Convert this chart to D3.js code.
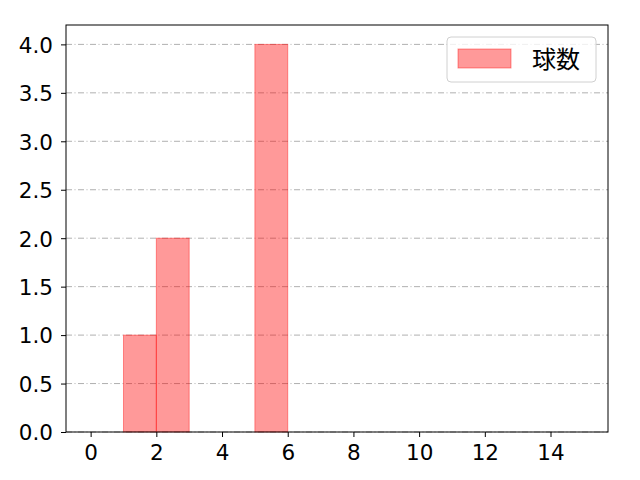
<!DOCTYPE html>
<html>
<head>
<meta charset="utf-8">
<script src="https://cdn.jsdelivr.net/npm/d3@7"></script>
<style>
  body { margin: 0; background: #fff; }
</style>
</head>
<body>
<svg id="chart" width="640" height="480"></svg>
<script>
// histogram bins (start, end) and counts
const binStarts = [1, 2, 5];
const binEnds = [2, 3, 6];
const counts = [1, 2, 4];
const xTicks = [0, 2, 4, 6, 8, 10, 12, 14];
const yTicks = [0, 0.5, 1.0, 1.5, 2.0, 2.5, 3.0, 3.5, 4.0];
const seriesName = "球数";

const TICK_FONT = "'DejaVu Sans', sans-serif";
const CJK_FONT = "'Noto Sans CJK JP', sans-serif";

const svg = d3.select("#chart");
const margin = { top: 25, right: 32, bottom: 48, left: 66 };
const width = +svg.attr("width") - margin.left - margin.right;
const height = +svg.attr("height") - margin.top - margin.bottom;

const chart = svg.append("g")
    .attr("transform", `translate(${margin.left},${margin.top})`);

const x = d3.scaleLinear().domain([-0.75, 15.75]).range([0, width]);
const y = d3.scaleLinear().domain([0, 4.2]).range([height, 0]);

// grid
chart.selectAll(".grid")
    .data(yTicks)
    .enter()
    .append("line")
    .attr("x1", 0)
    .attr("x2", width)
    .attr("y1", d => y(d))
    .attr("y2", d => y(d))
    .attr("stroke", "#b0b0b0")
    .attr("stroke-width", 1)
    .attr("stroke-dasharray", "6,2.5,1,2.5");

// bars
const bars = binStarts.map((s, i) => ({ s, e: binEnds[i], v: counts[i] }));
chart.selectAll(".bar")
    .data(bars)
    .enter()
    .append("rect")
    .attr("x", d => x(d.s))
    .attr("y", d => y(d.v))
    .attr("width", d => x(d.e) - x(d.s))
    .attr("height", d => height - y(d.v))
    .attr("fill", "red")
    .attr("fill-opacity", 0.4)
    .attr("stroke", "red")
    .attr("stroke-opacity", 0.4)
    .attr("stroke-width", 1);

// axes
const xAxis = chart.append("g")
    .attr("transform", `translate(0,${height})`)
    .call(d3.axisBottom(x).tickValues(xTicks).tickSize(5).tickPadding(7).tickFormat(d3.format("d")));
const yAxis = chart.append("g")
    .call(d3.axisLeft(y).tickValues(yTicks).tickSize(5).tickPadding(8).tickFormat(d3.format(".1f")));

[xAxis, yAxis].forEach(a => {
    a.attr("font-size", null).attr("font-family", null);
    a.select(".domain").remove();
    a.selectAll("line").attr("stroke", "#000").attr("stroke-width", 1);
    a.selectAll("text")
        .style("font-family", TICK_FONT)
        .style("font-size", "21.5px")
        .attr("fill", "#000");
});
xAxis.selectAll("text").attr("dy", "0.73em");
yAxis.selectAll("text").attr("dy", "0.365em");

chart.append("rect")
    .attr("width", width)
    .attr("height", height)
    .attr("fill", "none")
    .attr("stroke", "#000")
    .attr("stroke-width", 1);

// legend
const legend = chart.append("g")
    .attr("transform", `translate(${width - 161},12)`);
legend.append("rect")
    .attr("width", 149)
    .attr("height", 45)
    .attr("rx", 4)
    .attr("fill", "#fff")
    .attr("fill-opacity", 0.8)
    .attr("stroke", "#d0d0d0");
legend.append("rect")
    .attr("x", 11)
    .attr("y", 12)
    .attr("width", 53)
    .attr("height", 19)
    .attr("fill", "red")
    .attr("fill-opacity", 0.4)
    .attr("stroke", "red")
    .attr("stroke-opacity", 0.4);
legend.append("text")
    .attr("x", 85)
    .attr("y", 31)
    .style("font-family", CJK_FONT)
    .style("font-size", "24px")
    .text(seriesName);
</script>
</body>
</html>
